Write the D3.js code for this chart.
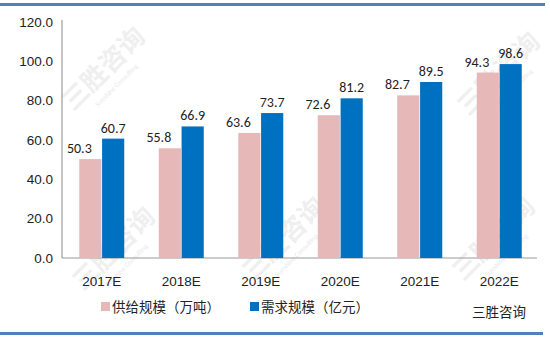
<!DOCTYPE html>
<html><head><meta charset="utf-8">
<script src="https://cdn.jsdelivr.net/npm/d3@7"></script>
<style>
html,body{margin:0;padding:0;background:#fff;}
svg{display:block;font-family:Calibri,Carlito,"Noto Sans","Noto Sans CJK SC",sans-serif;}
</style></head><body>
<svg id="c" width="550" height="338"></svg>
<script>
const categories = ["2017E","2018E","2019E","2020E","2021E","2022E"];
const supply = [50.3,55.8,63.6,72.6,82.7,94.3];
const demand = [60.7,66.9,73.7,81.2,89.5,98.6];
const seriesNames = ["供给规模（万吨）","需求规模（亿元）"];
const yTicks = [0,20,40,60,80,100,120];
const colors = ["#E6B9B8","#0070C0"];

const svg = d3.select("#c");
const plot = {left:62,right:539,top:22,bottom:258};

// watermarks
const wm = svg.append("g");
[[110,75],[120,255],[505,80],[500,245],[290,245]].forEach(([x,y])=>{
  wm.append("text").attr("transform",`translate(${x},${y}) rotate(-45)`)
    .attr("text-anchor","middle").attr("font-size",26).attr("font-weight","bold")
    .attr("font-family","'Noto Sans CJK SC',sans-serif").attr("fill","#efefef").text("三胜咨询");
  wm.append("text").attr("transform",`translate(${x+8},${y+12}) rotate(-45)`)
    .attr("text-anchor","middle").attr("font-size",7).attr("fill","#e8e8e8").text("Sunshine Consulting");
});

// frame lines
svg.append("rect").attr("x",0).attr("y",3).attr("width",545).attr("height",3).attr("fill","#4F81BD");
svg.append("rect").attr("x",0).attr("y",332).attr("width",543).attr("height",3).attr("fill","#4F81BD");

const x = d3.scaleBand().domain(categories).range([plot.left,plot.right]).paddingInner(0).paddingOuter(0);
const y = d3.scaleLinear().domain([0,120]).range([plot.bottom,plot.top]);
const sub = d3.scaleBand().domain([0,1]).range([0,45]).paddingInner(0.03);
const off = (x.bandwidth()-45)/2;

// axes
const ya = svg.append("g").attr("transform",`translate(${plot.left},0)`)
  .call(d3.axisLeft(y).tickValues(yTicks).tickFormat(d3.format(".1f")).tickSize(0).tickPadding(9));
ya.select(".domain").attr("stroke","#888").attr("d",`M0,${plot.bottom}V${plot.top-2}`);
ya.selectAll("text").attr("font-size",13.5).attr("fill","#222");

const xa = svg.append("g").attr("transform",`translate(0,${plot.bottom})`)
  .call(d3.axisBottom(x).tickSize(0).tickPadding(18));
xa.select(".domain").attr("stroke","#999").attr("d",`M${plot.left},0H${plot.right-2}`);
xa.selectAll("text").attr("font-size",13.5).attr("fill","#222");

// bars
const data=[supply,demand];
const labelShift=[-11,0];
data.forEach((vals,si)=>{
  const g=svg.append("g");
  g.selectAll("rect").data(vals).join("rect")
    .attr("x",(d,i)=>x(categories[i])+off+sub(si))
    .attr("y",d=>y(d)).attr("width",sub.bandwidth()).attr("height",d=>y(0)-y(d))
    .attr("fill",colors[si]);
  g.selectAll("text").data(vals).join("text")
    .attr("x",(d,i)=>x(categories[i])+off+sub(si)+sub.bandwidth()/2+labelShift[si])
    .attr("y",d=>y(d)-6).attr("text-anchor","middle")
    .attr("font-size",14).attr("fill","#222").text(d=>d.toFixed(1));
});

// legend
const lg=svg.append("g");
const lx=[101,250];
seriesNames.forEach((n,i)=>{
  lg.append("rect").attr("x",lx[i]).attr("y",302).attr("width",9).attr("height",9).attr("fill",colors[i]);
  lg.append("text").attr("x",lx[i]+11).attr("y",312).attr("font-size",13.5).attr("fill","#222")
    .attr("font-family","'Noto Sans CJK SC',sans-serif").text(n);
});
svg.append("text").attr("x",472).attr("y",317).attr("font-size",13.5).attr("fill","#222")
  .attr("font-family","'Noto Sans CJK SC',sans-serif").text("三胜咨询");
</script>
</body></html>
